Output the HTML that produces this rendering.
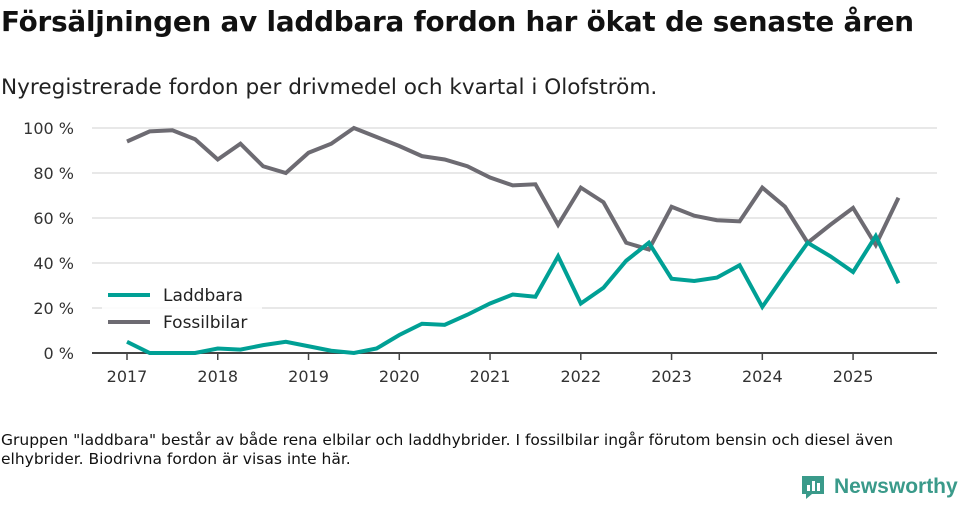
<!DOCTYPE html>
<html><head><meta charset="utf-8">
<style>
body{margin:0;width:960px;height:505px;background:#fff;font-family:"DejaVu Sans","Liberation Sans",sans-serif;color:#111;overflow:hidden;position:relative}
h1{position:absolute;left:1px;top:5px;margin:0;font-size:27.8px;font-weight:bold;letter-spacing:-0.2px;white-space:nowrap}
.sub{position:absolute;left:1px;top:75px;font-size:21.6px;color:#222;white-space:nowrap}
.note{position:absolute;left:1px;top:431px;font-size:15.5px;line-height:19px;width:930px;color:#111}
.logo{position:absolute;left:800px;top:474px;font-size:21px;color:#3a9a8a;font-weight:bold;display:flex;align-items:center;font-family:"Liberation Sans",sans-serif}
</style></head><body>
<h1>Försäljningen av laddbara fordon har ökat de senaste åren</h1>
<div class="sub">Nyregistrerade fordon per drivmedel och kvartal i Olofström.</div>
<svg id="chart" width="960" height="420" style="position:absolute;left:0;top:0"></svg>
<div class="note">Gruppen "laddbara" består av både rena elbilar och laddhybrider. I fossilbilar ingår förutom bensin och diesel även<br>elhybrider. Biodrivna fordon är visas inte här.</div>
<div class="logo">
<svg width="26" height="26" viewBox="0 0 26 26" style="margin-right:8px"><path d="M2 2h22v18h-12l-6 5v-5h-4z" fill="#3a9a8a"/><rect x="7" y="11" width="3" height="6" fill="#fff"/><rect x="12" y="7" width="3" height="10" fill="#fff"/><rect x="17" y="9" width="3" height="8" fill="#fff"/></svg>Newsworthy</div>
<script>
const quarters=["2017Q1","2017Q2","2017Q3","2017Q4","2018Q1","2018Q2","2018Q3","2018Q4","2019Q1","2019Q2","2019Q3","2019Q4","2020Q1","2020Q2","2020Q3","2020Q4","2021Q1","2021Q2","2021Q3","2021Q4","2022Q1","2022Q2","2022Q3","2022Q4","2023Q1","2023Q2","2023Q3","2023Q4","2024Q1","2024Q2","2024Q3","2024Q4","2025Q1","2025Q2","2025Q3"];
const laddbara=[5,0,0,0,2,1.5,3.5,5,3,1,0,2,8,13,12.5,17,22,26,25,43,22,29,41,49,33,32,33.5,39,20.5,35,49,43,36,52,31];
const fossil=[94,98.5,99,95,86,93,83,80,89,93,100,96,92,87.5,86,83,78,74.5,75,57,73.5,67,49,46,65,61,59,58.5,73.5,65,49,57,64.5,48,69];
const yTicks=[0,20,40,60,80,100];
const yTickLabels=["0 %","20 %","40 %","60 %","80 %","100 %"];
const xYears=[2017,2018,2019,2020,2021,2022,2023,2024,2025];
const svg=document.getElementById('chart');const NS="http://www.w3.org/2000/svg";
const x=i=>127+i*22.69;const y=v=>353-v*2.25;
function el(t,a,p){const e=document.createElementNS(NS,t);for(const k in a)e.setAttribute(k,a[k]);(p||svg).appendChild(e);return e;}
yTicks.forEach((v,i)=>{
 if(v>0){const g=el('line',{x1:92,x2:937,y1:y(v),y2:y(v),stroke:'#e0e0e0','stroke-width':1.5});
 
 }
 const t=el('text',{x:74,y:y(v)+6,'text-anchor':'end','font-size':16,fill:'#333','font-family':'DejaVu Sans, Liberation Sans, sans-serif'});t.textContent=yTickLabels[i];
 
 
});
const ax=el('line',{x1:92,x2:937,y1:353,y2:353,stroke:'#444','stroke-width':2});


xYears.forEach((yr,i)=>{const xx=x(i*4);
 el('line',{x1:xx,x2:xx,y1:353,y2:360,stroke:'#444','stroke-width':1.5});
 const t=el('text',{x:xx,y:382,'text-anchor':'middle','font-size':16,fill:'#333','font-family':'DejaVu Sans, Liberation Sans, sans-serif'});t.textContent=yr;
 
 
});
function line(data,color,name){const p=el('polyline',{points:data.map((v,i)=>x(i)+','+y(v)).join(' '),fill:'none',stroke:color,'stroke-width':4,'stroke-linejoin':'miter'});
 
 }
line(fossil,'#6d6b72','fossilbilar-line');
line(laddbara,'#00a095','laddbara-line');
el('rect',{x:102,y:279,width:160,height:60,fill:'#fff',opacity:0.85});
[['Laddbara','#00a095',295],['Fossilbilar','#6d6b72',322]].forEach(([n,c,yy])=>{
 const g=el('g',{});
 
 
 el('line',{x1:108,x2:150,y1:yy,y2:yy,stroke:c,'stroke-width':4},g);
 const t=el('text',{x:163,y:yy+6,'font-size':17,fill:'#222','font-family':'DejaVu Sans, Liberation Sans, sans-serif'},g);t.textContent=n;
});
</script>
</body></html>
